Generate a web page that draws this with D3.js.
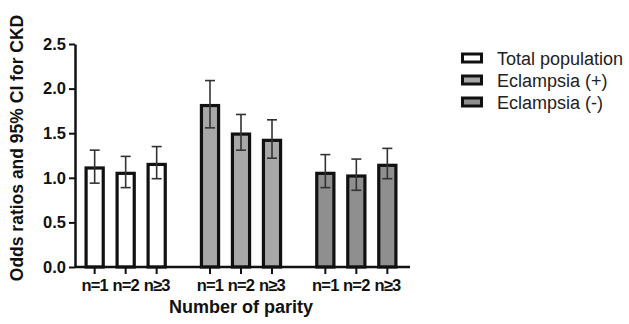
<!DOCTYPE html>
<html><head><meta charset="utf-8">
<script src="https://cdn.jsdelivr.net/npm/d3@7"></script>
<style>
html,body{margin:0;padding:0;background:#fff;}
svg{display:block;font-family:"Liberation Sans",Arial,sans-serif;}
</style></head>
<body><svg id="c" width="629" height="324"></svg>
<script>
const groups = ["Total population", "Eclampsia (+)", "Eclampsia (-)"];
const parity = ["n=1", "n=2", "n≥3"];
const orTotal = [1.11, 1.05, 1.15];
const loTotal = [0.94, 0.89, 0.99];
const hiTotal = [1.31, 1.24, 1.35];
const orPos = [1.81, 1.49, 1.42];
const loPos = [1.56, 1.31, 1.22];
const hiPos = [2.09, 1.71, 1.65];
const orNeg = [1.05, 1.02, 1.14];
const loNeg = [0.89, 0.86, 0.99];
const hiNeg = [1.26, 1.21, 1.33];
const yTicks = [0, 0.5, 1.0, 1.5, 2.0, 2.5];
const fills = ["#ffffff", "#a8a8a8", "#8f8f8f"];

const seriesOR = [orTotal, orPos, orNeg];
const seriesLo = [loTotal, loPos, loNeg];
const seriesHi = [hiTotal, hiPos, hiNeg];
const rows = [];
groups.forEach((g, gi) => parity.forEach((p, pi) => rows.push({
  g, p, gi, v: seriesOR[gi][pi], lo: seriesLo[gi][pi], hi: seriesHi[gi][pi]
})));

const svg = d3.select("#c");
const y = d3.scaleLinear().domain([0, 2.5]).range([267, 44]);
const xg = d3.scaleBand().domain(groups).range([68, 414]);
const xi = d3.scaleBand().domain(parity).range([0, xg.bandwidth()]).paddingInner(0.35).paddingOuter(0.535);
const cx = d => xg(d.g) + xi(d.p) + xi.bandwidth() / 2;
const color = d3.scaleOrdinal().domain(groups).range(fills);
const bw = xi.bandwidth() - 3;

// bars
svg.append("g").selectAll("rect").data(rows).join("rect")
  .attr("x", d => cx(d) - bw / 2)
  .attr("width", bw)
  .attr("y", d => y(d.v))
  .attr("height", d => y(0) - y(d.v))
  .attr("fill", d => color(d.g))
  .attr("stroke", "#111")
  .attr("stroke-width", 3.2);

// error bars
const eb = svg.append("g").attr("stroke", "#333").attr("stroke-width", 1.6).attr("fill", "none");
eb.selectAll("line.v").data(rows).join("line").attr("class", "v")
  .attr("x1", cx).attr("x2", cx).attr("y1", d => y(d.lo)).attr("y2", d => y(d.hi));
eb.selectAll("line.t").data(rows).join("line").attr("class", "t")
  .attr("x1", d => cx(d) - 5).attr("x2", d => cx(d) + 5).attr("y1", d => y(d.hi)).attr("y2", d => y(d.hi));
eb.selectAll("line.b").data(rows).join("line").attr("class", "b")
  .attr("x1", d => cx(d) - 5).attr("x2", d => cx(d) + 5).attr("y1", d => y(d.lo)).attr("y2", d => y(d.lo));

// y axis
const ya = svg.append("g").attr("transform", "translate(75,0)")
  .call(d3.axisLeft(y).tickValues(yTicks).tickFormat(d3.format(".1f")).tickSize(6).tickPadding(3).tickSizeOuter(0));
ya.select(".domain").attr("stroke", "#111").attr("stroke-width", 2.5);
ya.selectAll(".tick line").attr("stroke", "#111").attr("stroke-width", 2);
ya.selectAll(".tick text").attr("fill", "#111").attr("font-size", 16.5).attr("font-weight", "bold")
  .attr("font-family", "'Liberation Sans',Arial,sans-serif");

// x axis
const xa = svg.append("g").attr("transform", "translate(0,267)");
xa.append("line").attr("x1", 75).attr("x2", 410).attr("stroke", "#111").attr("stroke-width", 2.5);
const xt = xa.selectAll("g.xt").data(rows).join("g").attr("class", "xt")
  .attr("transform", d => `translate(${cx(d)},0)`);
xt.append("line").attr("y1", 0).attr("y2", 7).attr("stroke", "#111").attr("stroke-width", 2);
xt.append("text").attr("y", 24).attr("text-anchor", "middle").attr("font-size", 16.5)
  .attr("font-weight", "bold").attr("fill", "#111").attr("letter-spacing", -0.8).text(d => d.p);

// axis titles
svg.append("text").attr("x", 241).attr("y", 313).attr("text-anchor", "middle")
  .attr("font-size", 18).attr("font-weight", "bold").attr("fill", "#111").text("Number of parity");
svg.append("text").attr("transform", "translate(23,148) rotate(-90)").attr("text-anchor", "middle")
  .attr("font-size", 17.5).attr("font-weight", "bold").attr("fill", "#111").text("Odds ratios and 95% CI for CKD");

// legend
const lg = svg.append("g").selectAll("g").data(groups).join("g")
  .attr("transform", (d, i) => `translate(461,${58 + i * 22})`);
lg.append("rect").attr("x", 1.5).attr("y", -4).attr("width", 19).attr("height", 8)
  .attr("fill", d => color(d)).attr("stroke", "#111").attr("stroke-width", 3);
lg.append("text").attr("x", 36).attr("y", 6.5).attr("font-size", 18).attr("fill", "#222").text(d => d);
</script></body></html>
